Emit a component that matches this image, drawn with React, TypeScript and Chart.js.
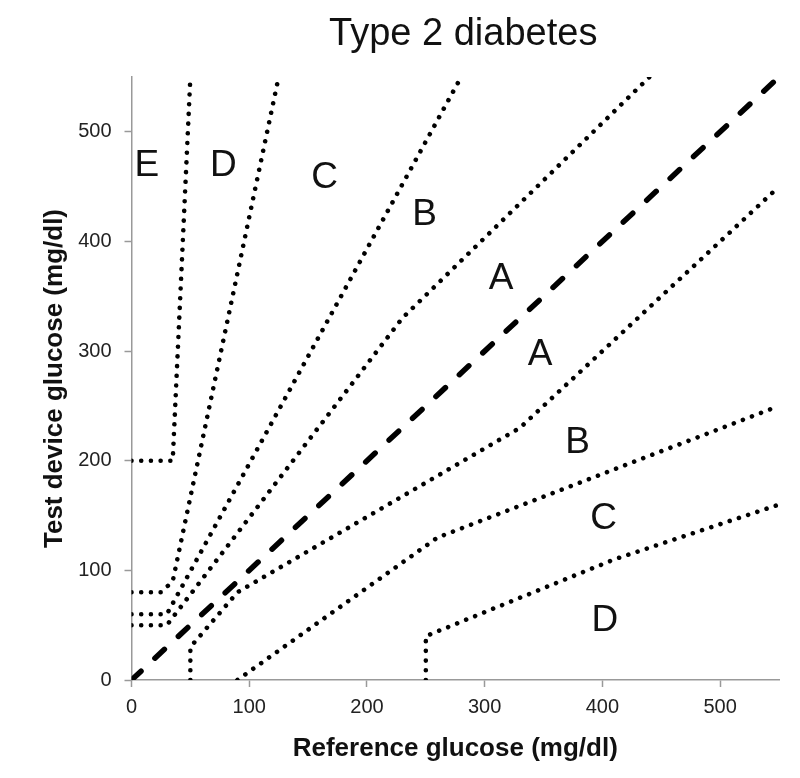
import React, { useEffect, useRef } from "react";
import { Chart, registerables } from "chart.js";

Chart.register(...registerables);

const chartTitle = "Type 2 diabetes";
const xAxisTitle = "Reference glucose (mg/dl)";
const yAxisTitle = "Test device glucose (mg/dl)";
const axisMax = 550;
const tickValues = [0, 100, 200, 300, 400, 500];

// Identity line
const identityX = [0, 550];
const identityY = [0, 550];

// Upper boundaries
const eUpperX = [0, 35, 50];
const eUpperY = [200, 200, 550];
const dUpperX = [0, 25, 35, 125];
const dUpperY = [80, 80, 90, 550];
const cUpperX = [0, 30, 280];
const cUpperY = [60, 60, 550];
const aUpperX = [0, 30, 230, 440];
const aUpperY = [50, 50, 330, 550];

// Lower boundaries
const aLowerX = [50, 50, 90, 330, 550];
const aLowerY = [0, 30, 80, 230, 450];
const bLowerX = [90, 260, 550];
const bLowerY = [0, 130, 250];
const cLowerX = [250, 250, 410, 550];
const cLowerY = [0, 40, 110, 160];

// Zone labels
const zoneNames = ["E", "D", "C", "B", "A", "A", "B", "C", "D"];
const zoneX = [13, 78, 164, 249, 314, 347, 379, 401, 402];
const zoneY = [472, 472, 461, 427, 369, 299, 219, 150, 57];

const boundaries = [
  [eUpperX, eUpperY],
  [dUpperX, dUpperY],
  [cUpperX, cUpperY],
  [aUpperX, aUpperY],
  [aLowerX, aLowerY],
  [bLowerX, bLowerY],
  [cLowerX, cLowerY],
];

const toPoints = (xs: number[], ys: number[]) => xs.map((x, i) => ({ x, y: ys[i] }));

const FONT = "'Liberation Sans', Arial, sans-serif";

export default function App() {
  const ref = useRef<HTMLCanvasElement | null>(null);

  useEffect(() => {
    document.body.style.margin = "0";
    const canvas = ref.current;
    if (!canvas) return;

    const datasets: any[] = boundaries.map(([xs, ys]) => ({
      data: toPoints(xs, ys),
      showLine: true,
      borderColor: "#000",
      borderWidth: 4.6,
      borderDash: [0.01, 9.7],
      borderCapStyle: "round",
      pointRadius: 0,
      fill: false,
      tension: 0,
    }));
    datasets.push({
      data: toPoints(identityX, identityY),
      showLine: true,
      borderColor: "#000",
      borderWidth: 5.5,
      borderDash: [13, 19],
      borderCapStyle: "round",
      pointRadius: 0,
      fill: false,
    });

    const overlay = {
      id: "overlay",
      afterDatasetsDraw(chart: any) {
        const { ctx, chartArea, scales } = chart;
        ctx.save();
        ctx.fillStyle = "#111";
        ctx.textAlign = "center";
        ctx.textBaseline = "alphabetic";
        ctx.font = `38px ${FONT}`;
        ctx.fillText(chartTitle, (chartArea.left + chartArea.right) / 2 + 8, 45);
        const fs = 37;
        ctx.font = `${fs}px ${FONT}`;
        zoneNames.forEach((n, i) => {
          const px = scales.x.getPixelForValue(zoneX[i]);
          const py = scales.y.getPixelForValue(zoneY[i]);
          ctx.fillText(n, px, py + fs * 0.358);
        });
        ctx.restore();
      },
    };

    const fixTicks = (s: any) => {
      s.ticks = tickValues.map((v) => ({ value: v }));
    };

    const gridOpts = {
      display: true,
      drawOnChartArea: false,
      drawTicks: true,
      tickLength: 7,
      tickColor: "#999",
      tickWidth: 1.5,
    };

    const chart = new Chart(canvas, {
      type: "scatter",
      data: { datasets },
      plugins: [overlay],
      options: {
        animation: false,
        responsive: false,
        maintainAspectRatio: false,
        layout: { padding: { top: 77, right: 21, left: 0, bottom: 0 } },
        plugins: {
          legend: { display: false },
          tooltip: { enabled: false },
          title: { display: false },
        },
        scales: {
          x: {
            type: "linear",
            min: 0,
            max: axisMax,
            afterBuildTicks: fixTicks,
            afterFit: (s: any) => {
              s.height = 98;
            },
            ticks: {
              color: "#222",
              padding: 8,
              font: { family: FONT, size: 20 },
            },
            grid: gridOpts,
            border: { display: true, color: "#999", width: 1.5 },
            title: {
              display: true,
              text: xAxisTitle,
              color: "#111",
              padding: { top: 0, bottom: 14 },
              font: { family: FONT, size: 26, weight: "bold" },
            },
          },
          y: {
            type: "linear",
            min: 0,
            max: axisMax,
            afterBuildTicks: fixTicks,
            afterFit: (s: any) => {
              s.width = 131.5;
            },
            ticks: {
              color: "#222",
              padding: 13,
              font: { family: FONT, size: 20 },
            },
            grid: gridOpts,
            border: { display: true, color: "#999", width: 1.5 },
            title: {
              display: true,
              text: yAxisTitle,
              color: "#111",
              padding: { top: 39, bottom: 0 },
              font: { family: FONT, size: 26, weight: "bold" },
            },
          },
        },
      } as any,
    });

    return () => chart.destroy();
  }, []);

  return (
    <div style={{ width: 800, height: 778 }}>
      <canvas ref={ref} width={800} height={778} style={{ display: "block", width: 800, height: 778 }} />
    </div>
  );
}
